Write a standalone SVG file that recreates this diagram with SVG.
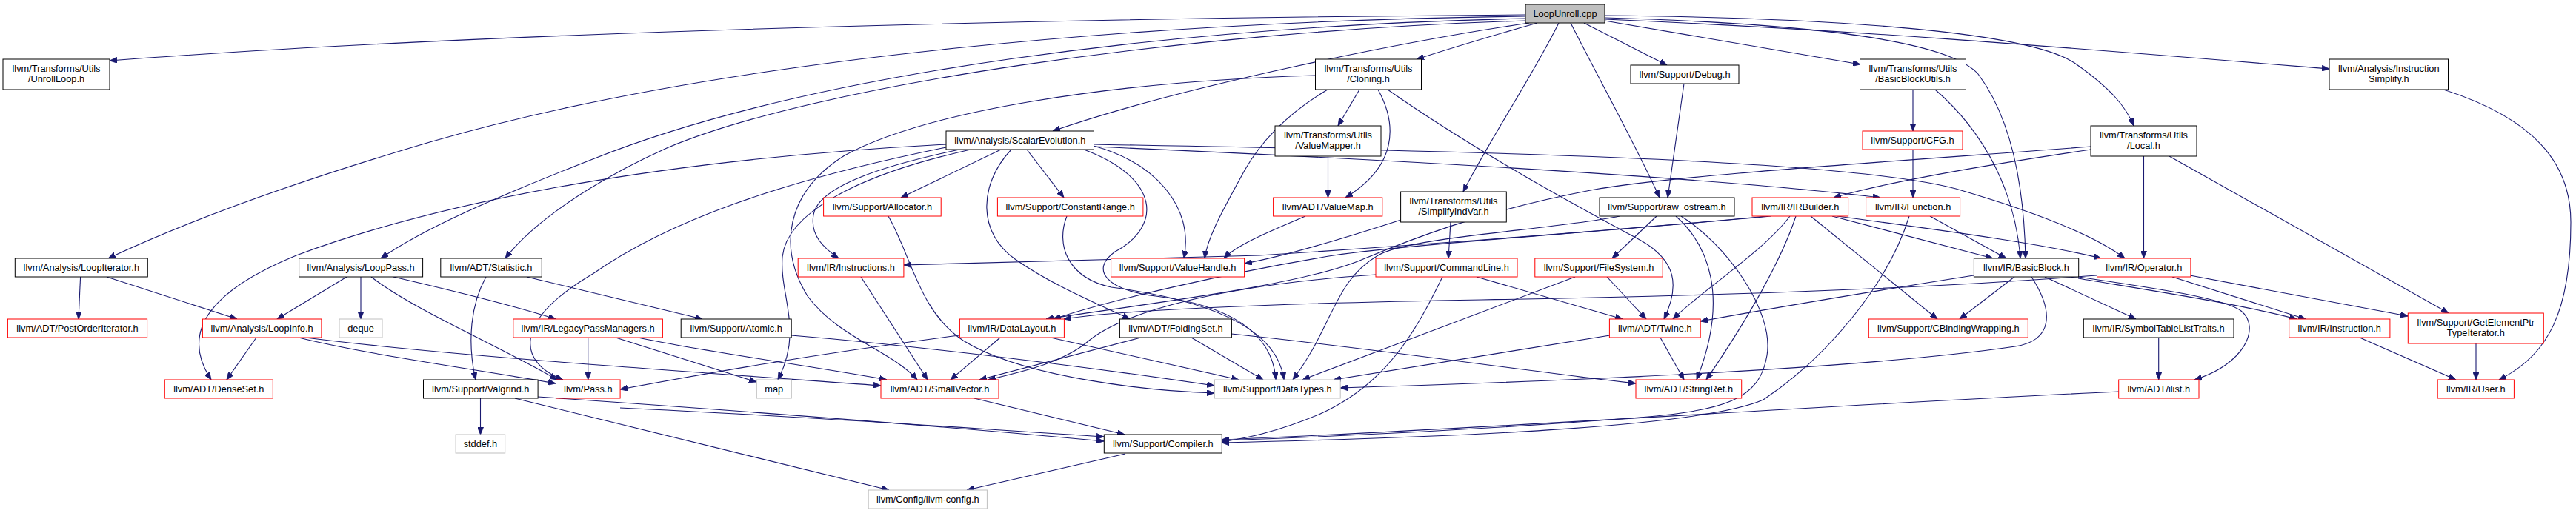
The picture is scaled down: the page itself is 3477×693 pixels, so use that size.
<svg xmlns="http://www.w3.org/2000/svg" width="3477" height="693" viewBox="0 0 3477 693">
<defs>
<marker id="ah" markerWidth="11" markerHeight="8" refX="10" refY="4" orient="auto" markerUnits="userSpaceOnUse"><path d="M0,0 L10,4 L0,8 z" fill="#191970" stroke="#191970" stroke-width="0.8"/></marker>
<style>
rect{fill:#fff;stroke:#000;stroke-width:1}
.r rect{stroke:#ff0000}
.g rect{stroke:#bfbfbf}
.root rect{fill:#bfbfbf}
text{font-family:"Liberation Sans",Arial,Helvetica,sans-serif;font-size:12.8px;text-anchor:middle;fill:#000}
#edges path{fill:none;stroke:#191970;stroke-width:1.1;marker-end:url(#ah)}
</style>
</defs>
<rect x="0" y="0" width="3477" height="693" style="fill:#fff;stroke:none"/>
<g id="edges">
<path d="M2059,20 C1500,24 700,40 148,82"/>
<path d="M2059,22 C1600,28 1000,70 580,192 C400,245 250,300 146,349"/>
<path d="M2059,25 C1600,35 1100,95 800,215 C660,270 570,310 514,349"/>
<path d="M2059,28 C1600,42 1100,115 900,200 C800,245 720,300 682,349"/>
<path d="M2064,31 C1900,55 1600,115 1421,177"/>
<path d="M2075,31 Q1990,55 1912,80"/>
<path d="M2104,31 C2070,100 2010,190 1975,259"/>
<path d="M2120,31 C2160,110 2210,200 2240,267"/>
<path d="M2138,31 L2250,88"/>
<path d="M2166,28 L2511,87"/>
<path d="M2166,24 C2450,32 2630,55 2670,100 C2715,160 2732,250 2734,349"/>
<path d="M2166,21 C2500,24 2740,45 2800,85 C2850,120 2870,145 2880,170"/>
<path d="M2166,26 C2500,40 2800,65 3144,93"/>
<path d="M1835,121 L1806,170"/>
<path d="M1860,121 C1887,170 1885,225 1816,267"/>
<path d="M1873,121 C2000,210 2150,290 2215,325 C2262,352 2268,385 2246,431"/>
<path d="M1792,121 C1735,155 1700,195 1680,230 C1650,285 1630,320 1626,349"/>
<path d="M1775,102 C1500,110 1250,150 1140,210 C1060,260 1050,335 1090,400 C1130,455 1205,475 1238,513"/>
<path d="M1792.5,211 L1792.5,267"/>
<path d="M1762,292 C1720,310 1670,330 1652,349"/>
<path d="M1891,297 C1820,320 1740,345 1680,356"/>
<path d="M1958,300 L1955,349"/>
<path d="M1351,202 L1216,267"/>
<path d="M1386,202 L1436,267"/>
<path d="M1365,202 C1320,250 1320,315 1370,350 C1420,385 1480,410 1525,431"/>
<path d="M1463,202 C1565,240 1570,305 1505,340 C1470,365 1495,392 1560,400 C1660,412 1718,450 1722,513"/>
<path d="M1476,197 C1560,220 1612,280 1598,349"/>
<path d="M1476,198 C1800,212 2300,238 2538,267"/>
<path d="M1476,195 C1900,203 2480,212 2640,255 C2760,290 2830,320 2868,349"/>
<path d="M1277,195 C900,215 600,270 400,345 C290,390 240,445 285,513"/>
<path d="M1277,199 C1050,245 900,300 800,370 C690,435 700,490 760,513"/>
<path d="M1295,202 C1200,222 1105,250 1098,290 C1093,318 1112,335 1132,349"/>
<path d="M1310,202 C1150,238 1062,290 1056,347 C1052,400 1085,445 1050,513"/>
<path d="M1440,292 C1425,330 1440,375 1500,388 C1650,408 1725,450 1733,513"/>
<path d="M1199,292 C1230,345 1240,420 1300,460 C1380,510 1550,528 1639,531"/>
<path d="M1068,453 C1250,468 1500,500 1639,521"/>
<path d="M1162,374 L1252,513"/>
<path d="M1350,456 L1283,513"/>
<path d="M1418,456 L1672,513"/>
<path d="M1295,453 C1100,478 950,505 837,526"/>
<path d="M1540,456 L1322,513"/>
<path d="M1608,456 L1705,513"/>
<path d="M1662,451 C1850,470 2050,500 2208,518"/>
<path d="M1315,538 L1518,587"/>
<path d="M1519,613 L1305,662"/>
<path d="M648.5,538 L648.5,587"/>
<path d="M695,538 L1200,662"/>
<path d="M726,536 C1000,555 1300,578 1490,596"/>
<path d="M837,551 C1100,563 1300,578 1490,590"/>
<path d="M656,374 C636,410 630,460 642,513"/>
<path d="M711,374 L948,431"/>
<path d="M793.7,456 L793.7,513"/>
<path d="M831,456 L1021,516"/>
<path d="M861,456 C950,475 1100,495 1197,513"/>
<path d="M468,374 L374,431"/>
<path d="M487,374 L487,431"/>
<path d="M501,374 C560,420 680,470 752,513"/>
<path d="M531,374 C600,390 700,415 750,431"/>
<path d="M108.6,374 L106,431"/>
<path d="M144,374 L320,431"/>
<path d="M346,456 L306,513"/>
<path d="M403,456 C500,480 650,500 750,518"/>
<path d="M412,456 C600,480 900,500 1189,521"/>
<path d="M1993,374 L2190,431"/>
<path d="M1947,374 C1910,450 1870,520 1780,560 C1720,585 1680,592 1649,597"/>
<path d="M1857,371 C1650,385 1520,420 1470,460 C1435,490 1380,502 1334,513"/>
<path d="M2169,374 L2222,431"/>
<path d="M2126,374 L1758,513"/>
<path d="M2236,292 L2176,349"/>
<path d="M2262,292 C2305,330 2335,400 2290,513"/>
<path d="M2269,292 C2330,330 2395,420 2385,480 C2375,540 2330,555 2200,565 C2000,580 1800,590 1649,595"/>
<path d="M2186,292 C2100,310 1900,320 1860,345 C1800,380 1800,440 1745,513"/>
<path d="M2241,456 L2273,513"/>
<path d="M2173,453 L1800,513"/>
<path d="M2416,292 C2380,340 2300,390 2258,431"/>
<path d="M2424,292 C2405,350 2360,430 2303,513"/>
<path d="M2444,292 L2615,431"/>
<path d="M2473,292 L2690,349"/>
<path d="M2480,292 C2650,315 2760,330 2836,349"/>
<path d="M2390,292 C2200,310 1900,330 1800,345 C1650,370 1500,405 1422,431"/>
<path d="M2385,292 C2200,310 1900,332 1700,345 C1500,351 1300,355 1220,358"/>
<path d="M2605,292 L2708,349"/>
<path d="M2577,292 C2550,380 2470,480 2380,540 C2300,575 2000,590 1649,598"/>
<path d="M2822,202 C2700,220 2550,245 2475,267"/>
<path d="M2893.5,211 L2893.5,349"/>
<path d="M2928,211 L3305,423"/>
<path d="M2822,198 C2500,222 2250,238 2147,257 C2000,285 1900,325 1840,350 C1760,385 1550,410 1412,431"/>
<path d="M2932,374 L3112,431"/>
<path d="M2956,372 L3250,427"/>
<path d="M2830,372 C2600,390 2300,400 2000,405 C1700,410 1500,420 1436,431"/>
<path d="M2719,374 L2645,431"/>
<path d="M2760,374 L2883,431"/>
<path d="M2805,376 C2900,392 3020,410 3100,431"/>
<path d="M2805,374 C2900,388 3000,402 3025,420 C3052,442 3030,492 2962,513"/>
<path d="M2742,374 C2772,420 2772,460 2720,468 C2500,500 2100,515 1809,524"/>
<path d="M2664,372 C2550,390 2400,415 2295,434"/>
<path d="M2913.7,456 L2913.7,513"/>
<path d="M2860,529 C2500,545 2000,580 1649,594"/>
<path d="M3185,456 L3315,513"/>
<path d="M3342,464 L3342,513"/>
<path d="M3298,121 C3420,160 3470,220 3470,300 C3470,420 3440,480 3373,513"/>
<path d="M2273,113 L2251,267"/>
<path d="M2582,121 L2582,177"/>
<path d="M2612,121 C2680,180 2720,260 2727,349"/>
<path d="M2582,202 L2582,267"/>
</g>
<g id="n_root" class="root"><rect x="2059" y="6" width="107" height="25"/><text x="2112.5" y="22.5">LoopUnroll.cpp</text></g>
<g id="n_unroll"><rect x="4" y="80" width="144" height="41"/><text x="76" y="96.7">llvm/Transforms/Utils</text><text x="76" y="110.7">/UnrollLoop.h</text></g>
<g id="n_cloning"><rect x="1775.5" y="80" width="143" height="41"/><text x="1847" y="96.7">llvm/Transforms/Utils</text><text x="1847" y="110.7">/Cloning.h</text></g>
<g id="n_debug"><rect x="2201" y="88" width="146" height="25"/><text x="2274" y="104.5">llvm/Support/Debug.h</text></g>
<g id="n_bbutils"><rect x="2510.5" y="80" width="143" height="41"/><text x="2582" y="96.7">llvm/Transforms/Utils</text><text x="2582" y="110.7">/BasicBlockUtils.h</text></g>
<g id="n_instsimp"><rect x="3144" y="80" width="160.5" height="41"/><text x="3224.3" y="96.7">llvm/Analysis/Instruction</text><text x="3224.3" y="110.7">Simplify.h</text></g>
<g id="n_scev"><rect x="1277" y="177" width="199.5" height="25"/><text x="1376.8" y="193.5">llvm/Analysis/ScalarEvolution.h</text></g>
<g id="n_valuemapper"><rect x="1721" y="170" width="143" height="41"/><text x="1792.5" y="186.7">llvm/Transforms/Utils</text><text x="1792.5" y="200.7">/ValueMapper.h</text></g>
<g id="n_cfg" class="r"><rect x="2514" y="177" width="135" height="25"/><text x="2581.5" y="193.5">llvm/Support/CFG.h</text></g>
<g id="n_local"><rect x="2822" y="170" width="143" height="41"/><text x="2893.5" y="186.7">llvm/Transforms/Utils</text><text x="2893.5" y="200.7">/Local.h</text></g>
<g id="n_allocator" class="r"><rect x="1111.6" y="267" width="158.6" height="25"/><text x="1190.9" y="283.5">llvm/Support/Allocator.h</text></g>
<g id="n_constrange" class="r"><rect x="1346.4" y="267" width="196.5" height="25"/><text x="1444.7" y="283.5">llvm/Support/ConstantRange.h</text></g>
<g id="n_valuemap" class="r"><rect x="1718.6" y="267" width="147.2" height="25"/><text x="1792.2" y="283.5">llvm/ADT/ValueMap.h</text></g>
<g id="n_simplifyindvar"><rect x="1890.6" y="259" width="142.7" height="41"/><text x="1962" y="275.7">llvm/Transforms/Utils</text><text x="1962" y="289.7">/SimplifyIndVar.h</text></g>
<g id="n_rawostream"><rect x="2159" y="267" width="182" height="25"/><text x="2250" y="283.5">llvm/Support/raw_ostream.h</text></g>
<g id="n_irbuilder" class="r"><rect x="2365" y="267" width="129.6" height="25"/><text x="2429.8" y="283.5">llvm/IR/IRBuilder.h</text></g>
<g id="n_function" class="r"><rect x="2518.6" y="267" width="127" height="25"/><text x="2582.1" y="283.5">llvm/IR/Function.h</text></g>
<g id="n_loopiterator"><rect x="20.3" y="349" width="179" height="25"/><text x="109.8" y="365.5">llvm/Analysis/LoopIterator.h</text></g>
<g id="n_looppass"><rect x="403.6" y="349" width="167" height="25"/><text x="487.1" y="365.5">llvm/Analysis/LoopPass.h</text></g>
<g id="n_statistic"><rect x="594.8" y="349" width="136.5" height="25"/><text x="663" y="365.5">llvm/ADT/Statistic.h</text></g>
<g id="n_instructions" class="r"><rect x="1077.2" y="349" width="142.7" height="25"/><text x="1148.5" y="365.5">llvm/IR/Instructions.h</text></g>
<g id="n_valuehandle" class="r"><rect x="1499.6" y="349" width="180" height="25"/><text x="1589.6" y="365.5">llvm/Support/ValueHandle.h</text></g>
<g id="n_commandline" class="r"><rect x="1857" y="349" width="191" height="25"/><text x="1952.5" y="365.5">llvm/Support/CommandLine.h</text></g>
<g id="n_filesystem" class="r"><rect x="2071.8" y="349" width="172.4" height="25"/><text x="2158" y="365.5">llvm/Support/FileSystem.h</text></g>
<g id="n_basicblock"><rect x="2664.4" y="349" width="141.3" height="25"/><text x="2735" y="365.5">llvm/IR/BasicBlock.h</text></g>
<g id="n_operator" class="r"><rect x="2830.5" y="349" width="126.4" height="25"/><text x="2893.7" y="365.5">llvm/IR/Operator.h</text></g>
<g id="n_postorder" class="r"><rect x="10.4" y="431" width="188.2" height="25"/><text x="104.5" y="447.5">llvm/ADT/PostOrderIterator.h</text></g>
<g id="n_loopinfo" class="r"><rect x="273.4" y="431" width="160.5" height="25"/><text x="353.6" y="447.5">llvm/Analysis/LoopInfo.h</text></g>
<g id="n_deque" class="g"><rect x="458" y="431" width="58" height="25"/><text x="487" y="447.5">deque</text></g>
<g id="n_legacypm" class="r"><rect x="692.8" y="431" width="201.6" height="25"/><text x="793.6" y="447.5">llvm/IR/LegacyPassManagers.h</text></g>
<g id="n_atomic"><rect x="919.2" y="431" width="149" height="25"/><text x="993.7" y="447.5">llvm/Support/Atomic.h</text></g>
<g id="n_datalayout" class="r"><rect x="1295.4" y="431" width="141" height="25"/><text x="1365.9" y="447.5">llvm/IR/DataLayout.h</text></g>
<g id="n_foldingset"><rect x="1511.4" y="431" width="151" height="25"/><text x="1586.9" y="447.5">llvm/ADT/FoldingSet.h</text></g>
<g id="n_twine" class="r"><rect x="2172.4" y="431" width="122.8" height="25"/><text x="2233.8" y="447.5">llvm/ADT/Twine.h</text></g>
<g id="n_cbinding" class="r"><rect x="2522.3" y="431" width="215" height="25"/><text x="2629.8" y="447.5">llvm/Support/CBindingWrapping.h</text></g>
<g id="n_symtab"><rect x="2812.3" y="431" width="202.7" height="25"/><text x="2913.6" y="447.5">llvm/IR/SymbolTableListTraits.h</text></g>
<g id="n_instruction" class="r"><rect x="3089.7" y="431" width="136.2" height="25"/><text x="3157.8" y="447.5">llvm/IR/Instruction.h</text></g>
<g id="n_gep" class="r"><rect x="3250.3" y="423" width="183" height="41"/><text x="3341.8" y="439.7">llvm/Support/GetElementPtr</text><text x="3341.8" y="453.7">TypeIterator.h</text></g>
<g id="n_denseset" class="r"><rect x="222.3" y="513" width="146" height="25"/><text x="295.3" y="529.5">llvm/ADT/DenseSet.h</text></g>
<g id="n_valgrind"><rect x="571.5" y="513" width="154.6" height="25"/><text x="648.8" y="529.5">llvm/Support/Valgrind.h</text></g>
<g id="n_pass" class="r"><rect x="750.5" y="513" width="86.6" height="25"/><text x="793.8" y="529.5">llvm/Pass.h</text></g>
<g id="n_map" class="g"><rect x="1021.3" y="513" width="47" height="25"/><text x="1044.8" y="529.5">map</text></g>
<g id="n_smallvector" class="r"><rect x="1189" y="513" width="159" height="25"/><text x="1268.5" y="529.5">llvm/ADT/SmallVector.h</text></g>
<g id="n_datatypes" class="g"><rect x="1639.4" y="513" width="169.8" height="25"/><text x="1724.3" y="529.5">llvm/Support/DataTypes.h</text></g>
<g id="n_stringref" class="r"><rect x="2208" y="513" width="142.7" height="25"/><text x="2279.3" y="529.5">llvm/ADT/StringRef.h</text></g>
<g id="n_ilist" class="r"><rect x="2859.7" y="513" width="108.3" height="25"/><text x="2913.8" y="529.5">llvm/ADT/ilist.h</text></g>
<g id="n_user" class="r"><rect x="3290.2" y="513" width="103.2" height="25"/><text x="3341.8" y="529.5">llvm/IR/User.h</text></g>
<g id="n_stddef" class="g"><rect x="615.1" y="587" width="66.6" height="25"/><text x="648.4" y="603.5">stddef.h</text></g>
<g id="n_compiler"><rect x="1490.3" y="587" width="159" height="25"/><text x="1569.8" y="603.5">llvm/Support/Compiler.h</text></g>
<g id="n_llvmconfig" class="g"><rect x="1172.2" y="662" width="160.2" height="25"/><text x="1252.3" y="678.5">llvm/Config/llvm-config.h</text></g>
</svg>
